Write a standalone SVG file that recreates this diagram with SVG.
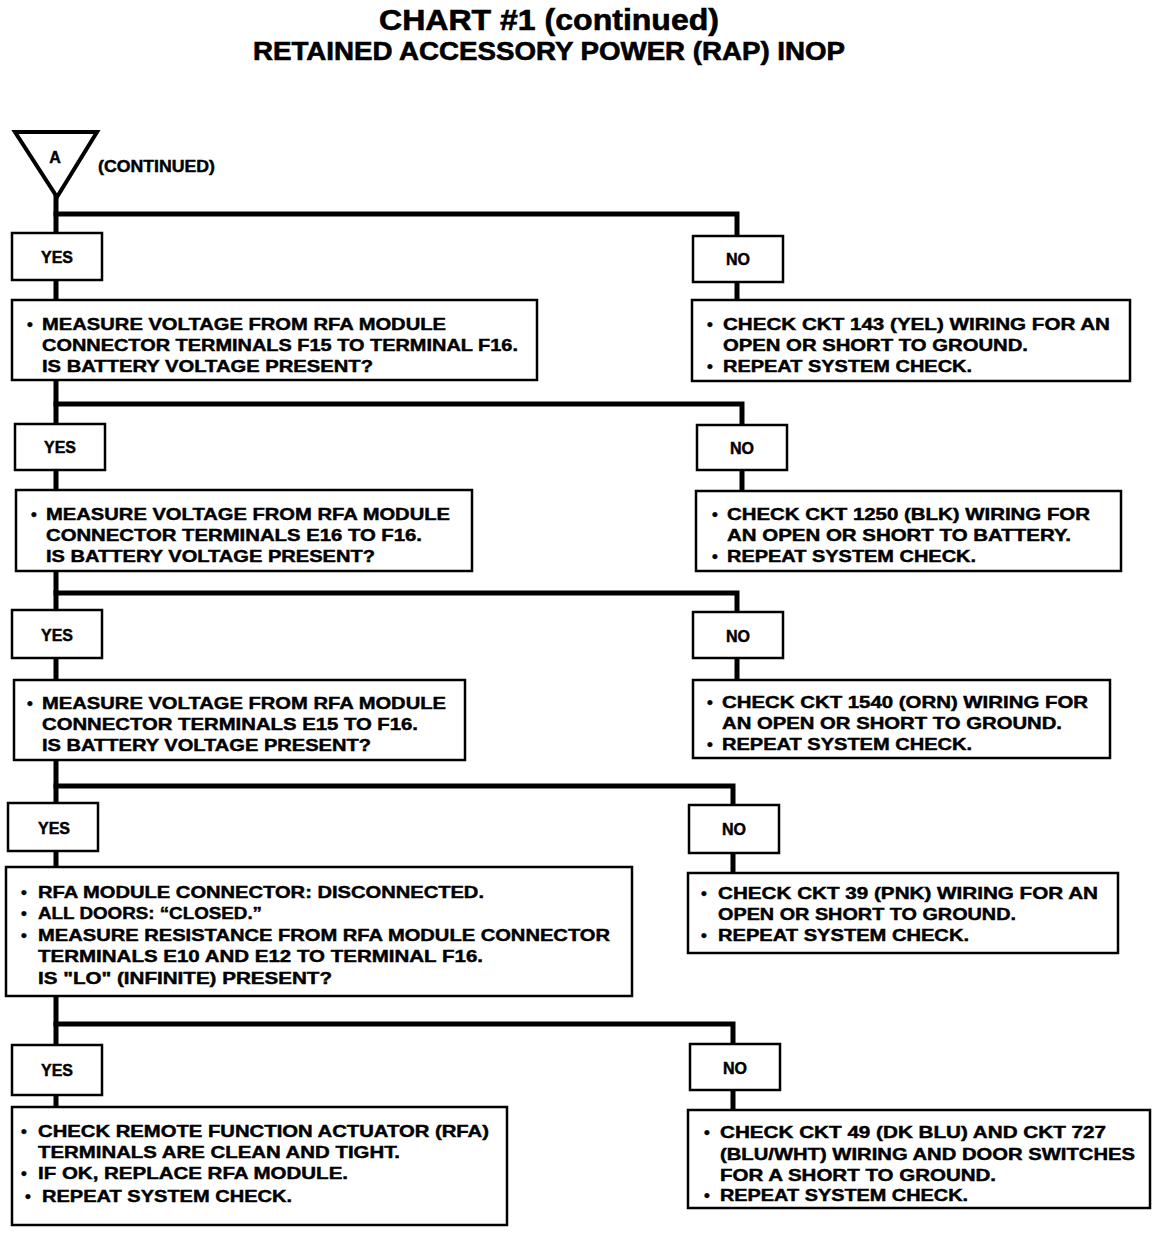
<svg xmlns="http://www.w3.org/2000/svg" width="1168" height="1242" viewBox="0 0 1168 1242">
<style>
  .bg{fill:#fff}
  .conn{fill:none;stroke:#000;stroke-width:5;stroke-linecap:square}
  .box{fill:#fff;stroke:#000;stroke-width:2.5}
  .t{font-family:"Liberation Sans",Arial,sans-serif;font-weight:bold;font-size:16.5px;fill:#000;stroke:#000;stroke-width:0.45}
  .lbl{font-family:"Liberation Sans",Arial,sans-serif;font-weight:bold;font-size:16px;fill:#000;stroke:#000;stroke-width:0.45;text-anchor:middle}
  .title{font-family:"Liberation Sans",Arial,sans-serif;font-weight:bold;fill:#000;stroke:#000;stroke-width:0.6;text-anchor:middle}
</style>
<rect class="bg" x="0" y="0" width="1168" height="1242"/>
<g id="title">
  <text class="title" x="549" y="30" font-size="29" textLength="340" lengthAdjust="spacingAndGlyphs">CHART #1 (continued)</text>
  <text class="title" x="549" y="60" font-size="25" textLength="592" lengthAdjust="spacingAndGlyphs">RETAINED ACCESSORY POWER (RAP) INOP</text>
</g>
<g id="connectors">
  <path class="conn" d="M56,196 V1107"/>
  <path class="conn" d="M56,214 H737 V300"/>
  <path class="conn" d="M56,404 H742 V491"/>
  <path class="conn" d="M56,593 H737 V680"/>
  <path class="conn" d="M56,786 H733 V873"/>
  <path class="conn" d="M56,1024 H733 V1110"/>
</g>
<g id="start">
  <polygon points="15,132 97,132 57,197" fill="#fff" stroke="#000" stroke-width="4" stroke-linejoin="miter"/>
  <text class="lbl" x="55" y="163" font-size="14">A</text>
  <text class="t" x="98" y="172" font-size="15" textLength="117" lengthAdjust="spacingAndGlyphs">(CONTINUED)</text>
</g>
<g id="yes1"><rect class="box" x="12" y="233" width="90" height="47"/><text class="lbl" x="57" y="263">YES</text></g>
<g id="no1"><rect class="box" x="693" y="236" width="90" height="46"/><text class="lbl" x="738" y="265">NO</text></g>
<g id="q1">
  <rect class="box" x="12" y="300" width="525" height="80"/>
  <text class="t" x="27" y="330">•</text>
  <text class="t" x="42" y="330" textLength="404" lengthAdjust="spacingAndGlyphs">MEASURE VOLTAGE FROM RFA MODULE</text>
  <text class="t" x="42" y="351" textLength="476" lengthAdjust="spacingAndGlyphs">CONNECTOR TERMINALS F15 TO TERMINAL F16.</text>
  <text class="t" x="42" y="372" textLength="331" lengthAdjust="spacingAndGlyphs">IS BATTERY VOLTAGE PRESENT?</text>
</g>
<g id="n1">
  <rect class="box" x="692" y="300" width="438" height="81"/>
  <text class="t" x="707" y="330">•</text>
  <text class="t" x="723" y="330" textLength="387" lengthAdjust="spacingAndGlyphs">CHECK CKT 143 (YEL) WIRING FOR AN</text>
  <text class="t" x="723" y="351" textLength="305" lengthAdjust="spacingAndGlyphs">OPEN OR SHORT TO GROUND.</text>
  <text class="t" x="707" y="372">•</text>
  <text class="t" x="723" y="372" textLength="249" lengthAdjust="spacingAndGlyphs">REPEAT SYSTEM CHECK.</text>
</g>
<g id="yes2"><rect class="box" x="15" y="424" width="90" height="46"/><text class="lbl" x="60" y="453">YES</text></g>
<g id="no2"><rect class="box" x="697" y="425" width="90" height="45"/><text class="lbl" x="742" y="454">NO</text></g>
<g id="q2">
  <rect class="box" x="16" y="490" width="456" height="81"/>
  <text class="t" x="31" y="520">•</text>
  <text class="t" x="46" y="520" textLength="404" lengthAdjust="spacingAndGlyphs">MEASURE VOLTAGE FROM RFA MODULE</text>
  <text class="t" x="46" y="541" textLength="376" lengthAdjust="spacingAndGlyphs">CONNECTOR TERMINALS E16 TO F16.</text>
  <text class="t" x="46" y="562" textLength="329" lengthAdjust="spacingAndGlyphs">IS BATTERY VOLTAGE PRESENT?</text>
</g>
<g id="n2">
  <rect class="box" x="696" y="491" width="425" height="80"/>
  <text class="t" x="712" y="520">•</text>
  <text class="t" x="727" y="520" textLength="363" lengthAdjust="spacingAndGlyphs">CHECK CKT 1250 (BLK) WIRING FOR</text>
  <text class="t" x="727" y="541" textLength="344" lengthAdjust="spacingAndGlyphs">AN OPEN OR SHORT TO BATTERY.</text>
  <text class="t" x="712" y="562">•</text>
  <text class="t" x="727" y="562" textLength="249" lengthAdjust="spacingAndGlyphs">REPEAT SYSTEM CHECK.</text>
</g>
<g id="yes3"><rect class="box" x="12" y="610" width="90" height="48"/><text class="lbl" x="57" y="641">YES</text></g>
<g id="no3"><rect class="box" x="693" y="612" width="90" height="46"/><text class="lbl" x="738" y="642">NO</text></g>
<g id="q3">
  <rect class="box" x="14" y="680" width="451" height="80"/>
  <text class="t" x="27" y="709">•</text>
  <text class="t" x="42" y="709" textLength="404" lengthAdjust="spacingAndGlyphs">MEASURE VOLTAGE FROM RFA MODULE</text>
  <text class="t" x="42" y="730" textLength="376" lengthAdjust="spacingAndGlyphs">CONNECTOR TERMINALS E15 TO F16.</text>
  <text class="t" x="42" y="751" textLength="329" lengthAdjust="spacingAndGlyphs">IS BATTERY VOLTAGE PRESENT?</text>
</g>
<g id="n3">
  <rect class="box" x="693" y="680" width="417" height="78"/>
  <text class="t" x="707" y="708">•</text>
  <text class="t" x="722" y="708" textLength="366" lengthAdjust="spacingAndGlyphs">CHECK CKT 1540 (ORN) WIRING FOR</text>
  <text class="t" x="722" y="729" textLength="340" lengthAdjust="spacingAndGlyphs">AN OPEN OR SHORT TO GROUND.</text>
  <text class="t" x="707" y="750">•</text>
  <text class="t" x="722" y="750" textLength="250" lengthAdjust="spacingAndGlyphs">REPEAT SYSTEM CHECK.</text>
</g>
<g id="yes4"><rect class="box" x="8" y="803" width="90" height="48"/><text class="lbl" x="54" y="834">YES</text></g>
<g id="no4"><rect class="box" x="689" y="805" width="90" height="48"/><text class="lbl" x="734" y="835">NO</text></g>
<g id="q4">
  <rect class="box" x="6" y="867" width="626" height="129"/>
  <text class="t" x="21" y="898">•</text>
  <text class="t" x="38" y="898" textLength="446" lengthAdjust="spacingAndGlyphs">RFA MODULE CONNECTOR: DISCONNECTED.</text>
  <text class="t" x="21" y="919">•</text>
  <text class="t" x="38" y="919" textLength="224" lengthAdjust="spacingAndGlyphs">ALL DOORS: “CLOSED.”</text>
  <text class="t" x="21" y="941">•</text>
  <text class="t" x="38" y="941" textLength="572" lengthAdjust="spacingAndGlyphs">MEASURE RESISTANCE FROM RFA MODULE CONNECTOR</text>
  <text class="t" x="38" y="962" textLength="445" lengthAdjust="spacingAndGlyphs">TERMINALS E10 AND E12 TO TERMINAL F16.</text>
  <text class="t" x="38" y="984" textLength="294" lengthAdjust="spacingAndGlyphs">IS "LO" (INFINITE) PRESENT?</text>
</g>
<g id="n4">
  <rect class="box" x="688" y="873" width="430" height="80"/>
  <text class="t" x="701" y="899">•</text>
  <text class="t" x="718" y="899" textLength="380" lengthAdjust="spacingAndGlyphs">CHECK CKT 39 (PNK) WIRING FOR AN</text>
  <text class="t" x="718" y="920" textLength="298" lengthAdjust="spacingAndGlyphs">OPEN OR SHORT TO GROUND.</text>
  <text class="t" x="701" y="941">•</text>
  <text class="t" x="718" y="941" textLength="251" lengthAdjust="spacingAndGlyphs">REPEAT SYSTEM CHECK.</text>
</g>
<g id="yes5"><rect class="box" x="12" y="1045" width="90" height="50"/><text class="lbl" x="57" y="1076">YES</text></g>
<g id="no5"><rect class="box" x="690" y="1044" width="90" height="46"/><text class="lbl" x="735" y="1074">NO</text></g>
<g id="y5">
  <rect class="box" x="12" y="1107" width="495" height="118"/>
  <text class="t" x="21" y="1137">•</text>
  <text class="t" x="38" y="1137" textLength="451" lengthAdjust="spacingAndGlyphs">CHECK REMOTE FUNCTION ACTUATOR (RFA)</text>
  <text class="t" x="38" y="1158" textLength="362" lengthAdjust="spacingAndGlyphs">TERMINALS ARE CLEAN AND TIGHT.</text>
  <text class="t" x="21" y="1179">•</text>
  <text class="t" x="38" y="1179" textLength="310" lengthAdjust="spacingAndGlyphs">IF OK, REPLACE RFA MODULE.</text>
  <text class="t" x="25" y="1202">•</text>
  <text class="t" x="42" y="1202" textLength="250" lengthAdjust="spacingAndGlyphs">REPEAT SYSTEM CHECK.</text>
</g>
<g id="n5">
  <rect class="box" x="688" y="1110" width="462" height="98"/>
  <text class="t" x="704" y="1138">•</text>
  <text class="t" x="720" y="1138" textLength="386" lengthAdjust="spacingAndGlyphs">CHECK CKT 49 (DK BLU) AND CKT 727</text>
  <text class="t" x="720" y="1160" textLength="415" lengthAdjust="spacingAndGlyphs">(BLU/WHT) WIRING AND DOOR SWITCHES</text>
  <text class="t" x="720" y="1181" textLength="276" lengthAdjust="spacingAndGlyphs">FOR A SHORT TO GROUND.</text>
  <text class="t" x="704" y="1201">•</text>
  <text class="t" x="720" y="1201" textLength="248" lengthAdjust="spacingAndGlyphs">REPEAT SYSTEM CHECK.</text>
</g>
</svg>
